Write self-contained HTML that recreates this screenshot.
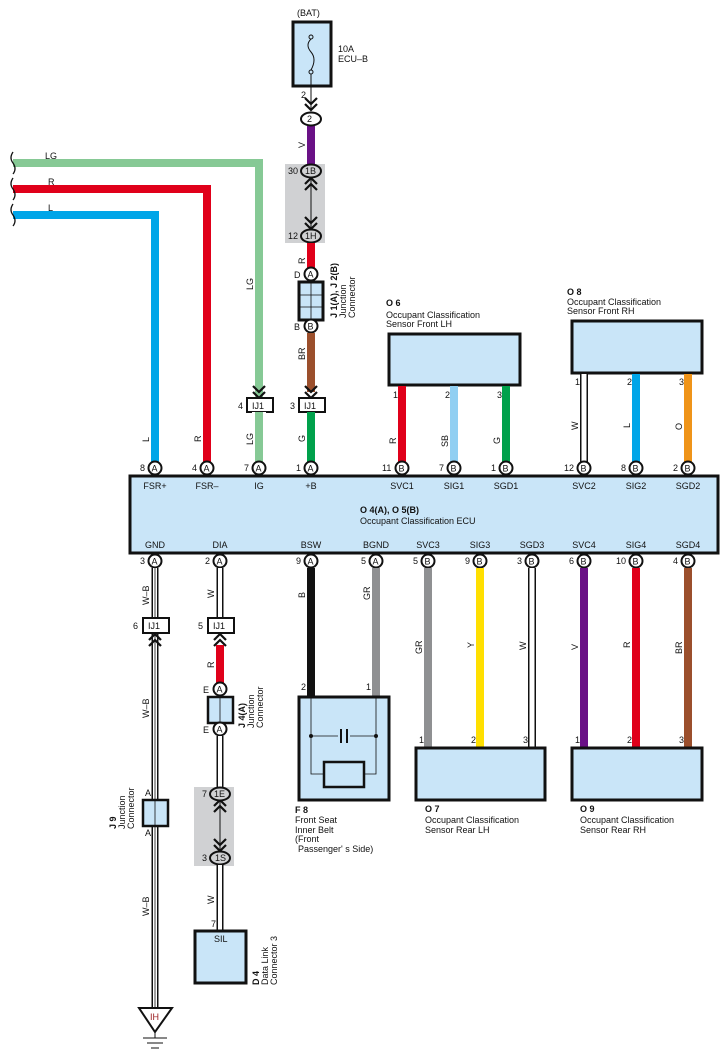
<!DOCTYPE html>
<html><head><meta charset="utf-8"><style>
html,body{margin:0;padding:0;background:#fff;width:725px;height:1061px;overflow:hidden}
svg{display:block}
text{font-family:"Liberation Sans",sans-serif;font-size:9px;fill:#111}
.b{font-weight:bold}
</style></head><body>
<svg width="725" height="1061" viewBox="0 0 725 1061" xmlns="http://www.w3.org/2000/svg">
<defs>
<g id="chev"><path d="M-6,-6 L0,0 L6,-6 M-6,0 L0,6 L6,0" fill="none" stroke="#111" stroke-width="2.2"/></g>
<g id="chevu"><path d="M-6,6 L0,0 L6,6 M-6,0 L0,-6 L6,0" fill="none" stroke="#111" stroke-width="2.2"/></g>
</defs>

<!-- top-left wires -->
<path d="M13,163 H259 V468" fill="none" stroke="#86c995" stroke-width="8"/>
<path d="M13,189 H207 V468" fill="none" stroke="#e0001a" stroke-width="8"/>
<path d="M13,215 H155 V468" fill="none" stroke="#00a5e8" stroke-width="8"/>
<path d="M13,152 q-4,6 0,11 q4,6 0,11" fill="none" stroke="#111" stroke-width="1.3"/>
<path d="M13,178 q-4,6 0,11 q4,6 0,11" fill="none" stroke="#111" stroke-width="1.3"/>
<path d="M13,204 q-4,6 0,11 q4,6 0,11" fill="none" stroke="#111" stroke-width="1.3"/>
<text x="45" y="159">LG</text><text x="48" y="185">R</text><text x="48" y="211">L</text>

<!-- fuse -->
<text x="297" y="16">(BAT)</text>
<rect x="293" y="22" width="38" height="64" fill="#c9e5f8" stroke="#111" stroke-width="3"/>
<circle cx="311" cy="37" r="2" fill="none" stroke="#111"/><circle cx="311" cy="72" r="2" fill="none" stroke="#111"/>
<path d="M311,39 q-6,6 0,13 q6,7 0,18" fill="none" stroke="#111" stroke-width="1"/>
<text x="338" y="52">10A</text><text x="338" y="62">ECU–B</text>
<line x1="311" y1="74" x2="311" y2="110" stroke="#111" stroke-width="1"/>
<text x="301" y="98">2</text>
<use href="#chev" x="311" y="104"/>
<line x1="311" y1="126" x2="311" y2="165" stroke="#6a1186" stroke-width="8"/>
<ellipse cx="311" cy="119" rx="10" ry="6.5" fill="#fff" stroke="#111" stroke-width="2"/><text x="307" y="122">2</text>
<text transform="translate(305,148) rotate(-90)">V</text>
<rect x="285" y="164" width="40" height="79" fill="#d0d1d3"/>
<line x1="311" y1="178" x2="311" y2="229" stroke="#111" stroke-width="1"/>
<use href="#chevu" x="311" y="184"/><use href="#chev" x="311" y="223"/>
<ellipse cx="311" cy="171" rx="10" ry="6.5" fill="#d0d1d3" stroke="#111" stroke-width="2"/><text x="305" y="174">1B</text>
<ellipse cx="311" cy="236" rx="10" ry="6.5" fill="#d0d1d3" stroke="#111" stroke-width="2"/><text x="305" y="239">1H</text>
<text x="288" y="174">30</text><text x="288" y="239">12</text>
<line x1="311" y1="243" x2="311" y2="268" stroke="#e0001a" stroke-width="8"/>
<text transform="translate(305,264) rotate(-90)">R</text>
<text x="294" y="278">D</text>
<circle cx="311" cy="274" r="6.5" fill="#fff" stroke="#111" stroke-width="2"/><text x="307.5" y="277.5">A</text>
<rect x="299" y="282" width="24" height="38" fill="#c9e5f8" stroke="#111" stroke-width="3"/>
<path d="M311,282 V320 M299,295 H323 M299,307 H323" stroke="#111" stroke-width="0.8"/>
<text x="294" y="330">B</text>
<circle cx="311" cy="326" r="6.5" fill="#fff" stroke="#111" stroke-width="2"/><text x="307.5" y="329.5">B</text>
<text class="b" transform="translate(337,318) rotate(-90)">J 1(A), J 2(B)</text>
<text transform="translate(346,318) rotate(-90)">Junction</text>
<text transform="translate(355,318) rotate(-90)">Connector</text>
<line x1="311" y1="333" x2="311" y2="392" stroke="#9b4f2c" stroke-width="8"/>
<text transform="translate(305,360) rotate(-90)">BR</text>
<use href="#chev" x="311" y="392"/><use href="#chev" x="259" y="392"/>
<rect x="299" y="398" width="26" height="14" fill="#fff" stroke="#111" stroke-width="2"/><text x="304" y="409">IJ1</text><text x="290" y="409">3</text>
<rect x="247" y="398" width="26" height="14" fill="#fff" stroke="#111" stroke-width="2"/><text x="252" y="409">IJ1</text><text x="238" y="409">4</text>
<rect x="252" y="412" width="14" height="50" fill="#fff"/>
<line x1="259" y1="412" x2="259" y2="462" stroke="#86c995" stroke-width="8"/>
<line x1="311" y1="412" x2="311" y2="462" stroke="#00a14b" stroke-width="8"/>
<text transform="translate(253,290) rotate(-90)">LG</text>
<text transform="translate(253,445) rotate(-90)">LG</text>
<text transform="translate(305,442) rotate(-90)">G</text>
<text transform="translate(149,442) rotate(-90)">L</text>
<text transform="translate(201,442) rotate(-90)">R</text>

<!-- sensors top -->
<text class="b" x="386" y="306">O 6</text>
<text x="386" y="318">Occupant Classification</text><text x="386" y="327">Sensor Front LH</text>
<rect x="389" y="334" width="131" height="51" fill="#c9e5f8" stroke="#111" stroke-width="3"/>
<line x1="402" y1="386" x2="402" y2="462" stroke="#e0001a" stroke-width="8"/>
<line x1="454" y1="386" x2="454" y2="462" stroke="#91cff2" stroke-width="8"/>
<line x1="506" y1="386" x2="506" y2="462" stroke="#00a14b" stroke-width="8"/>
<text x="393" y="398">1</text><text x="445" y="398">2</text><text x="497" y="398">3</text>
<text transform="translate(396,444) rotate(-90)">R</text>
<text transform="translate(448,447) rotate(-90)">SB</text>
<text transform="translate(500,444) rotate(-90)">G</text>
<text class="b" x="567" y="295">O 8</text>
<text x="567" y="305">Occupant Classification</text><text x="567" y="314">Sensor Front RH</text>
<rect x="572" y="321" width="130" height="52" fill="#c9e5f8" stroke="#111" stroke-width="3"/>
<line x1="584" y1="374" x2="584" y2="462" stroke="#111" stroke-width="8"/>
<line x1="584" y1="374" x2="584" y2="462" stroke="#fff" stroke-width="5"/>
<line x1="636" y1="374" x2="636" y2="462" stroke="#00a5e8" stroke-width="8"/>
<line x1="688" y1="374" x2="688" y2="462" stroke="#ef9419" stroke-width="8"/>
<text x="575" y="385">1</text><text x="627" y="385">2</text><text x="679" y="385">3</text>
<text transform="translate(578,430) rotate(-90)">W</text>
<text transform="translate(630,428) rotate(-90)">L</text>
<text transform="translate(682,430) rotate(-90)">O</text>

<!-- ECU -->
<rect x="130" y="476" width="588" height="77" fill="#c9e5f8" stroke="#111" stroke-width="3"/>
<text class="b" x="360" y="513">O 4(A), O 5(B)</text>
<text x="360" y="524">Occupant Classification ECU</text>
<g text-anchor="middle">
<text x="155" y="489">FSR+</text><text x="207" y="489">FSR–</text><text x="259" y="489">IG</text><text x="311" y="489">+B</text>
<text x="402" y="489">SVC1</text><text x="454" y="489">SIG1</text><text x="506" y="489">SGD1</text>
<text x="584" y="489">SVC2</text><text x="636" y="489">SIG2</text><text x="688" y="489">SGD2</text>
<text x="155" y="548">GND</text><text x="220" y="548">DIA</text><text x="311" y="548">BSW</text><text x="376" y="548">BGND</text>
<text x="428" y="548">SVC3</text><text x="480" y="548">SIG3</text><text x="532" y="548">SGD3</text>
<text x="584" y="548">SVC4</text><text x="636" y="548">SIG4</text><text x="688" y="548">SGD4</text>
</g>
<!-- top terminals -->
<g stroke="#111" stroke-width="2" fill="#fff">
<circle cx="155" cy="468" r="6.5"/><circle cx="207" cy="468" r="6.5"/><circle cx="259" cy="468" r="6.5"/><circle cx="311" cy="468" r="6.5"/>
<circle cx="402" cy="468" r="6.5"/><circle cx="454" cy="468" r="6.5"/><circle cx="506" cy="468" r="6.5"/>
<circle cx="584" cy="468" r="6.5"/><circle cx="636" cy="468" r="6.5"/><circle cx="688" cy="468" r="6.5"/>
<circle cx="155" cy="561" r="6.5"/><circle cx="220" cy="561" r="6.5"/><circle cx="311" cy="561" r="6.5"/><circle cx="376" cy="561" r="6.5"/>
<circle cx="428" cy="561" r="6.5"/><circle cx="480" cy="561" r="6.5"/><circle cx="532" cy="561" r="6.5"/>
<circle cx="584" cy="561" r="6.5"/><circle cx="636" cy="561" r="6.5"/><circle cx="688" cy="561" r="6.5"/>
</g>
<g font-size="9">
<text x="151.5" y="471.5">A</text><text x="203.5" y="471.5">A</text><text x="255.5" y="471.5">A</text><text x="307.5" y="471.5">A</text>
<text x="398.5" y="471.5">B</text><text x="450.5" y="471.5">B</text><text x="502.5" y="471.5">B</text>
<text x="580.5" y="471.5">B</text><text x="632.5" y="471.5">B</text><text x="684.5" y="471.5">B</text>
<text x="151.5" y="564.5">A</text><text x="216.5" y="564.5">A</text><text x="307.5" y="564.5">A</text><text x="372.5" y="564.5">A</text>
<text x="424.5" y="564.5">B</text><text x="476.5" y="564.5">B</text><text x="528.5" y="564.5">B</text>
<text x="580.5" y="564.5">B</text><text x="632.5" y="564.5">B</text><text x="684.5" y="564.5">B</text>
<text x="140" y="471">8</text><text x="192" y="471">4</text><text x="244" y="471">7</text><text x="296" y="471">1</text>
<text x="382" y="471">11</text><text x="439" y="471">7</text><text x="491" y="471">1</text>
<text x="564" y="471">12</text><text x="621" y="471">8</text><text x="673" y="471">2</text>
<text x="140" y="564">3</text><text x="205" y="564">2</text><text x="296" y="564">9</text><text x="361" y="564">5</text>
<text x="413" y="564">5</text><text x="465" y="564">9</text><text x="517" y="564">3</text>
<text x="569" y="564">6</text><text x="616" y="564">10</text><text x="673" y="564">4</text>
</g>

<!-- bottom left W-B -->
<line x1="155" y1="568" x2="155" y2="618" stroke="#111" stroke-width="7"/><line x1="155" y1="568" x2="155" y2="618" stroke="#fff" stroke-width="4"/>
<line x1="155" y1="633" x2="155" y2="1012" stroke="#111" stroke-width="7"/><line x1="155" y1="633" x2="155" y2="1012" stroke="#fff" stroke-width="4"/>
<line x1="155" y1="633" x2="155" y2="1012" stroke="#111" stroke-width="0.8"/>
<line x1="155" y1="568" x2="155" y2="618" stroke="#111" stroke-width="0.8"/>
<use href="#chevu" x="155" y="640"/>
<rect x="143" y="618" width="26" height="15" fill="#fff" stroke="#111" stroke-width="2"/><text x="148" y="629">IJ1</text><text x="133" y="629">6</text>
<text transform="translate(149,605) rotate(-90)">W–B</text>
<text transform="translate(149,718) rotate(-90)">W–B</text>
<text transform="translate(149,916) rotate(-90)">W–B</text>
<text x="145" y="796">A</text><text x="145" y="836">A</text>
<rect x="143" y="800" width="25" height="26" fill="#c9e5f8" stroke="#111" stroke-width="2.5"/>
<line x1="155" y1="800" x2="155" y2="826" stroke="#111" stroke-width="0.8"/>
<text class="b" transform="translate(116,829) rotate(-90)">J 9</text>
<text transform="translate(125,829) rotate(-90)">Junction</text>
<text transform="translate(134,829) rotate(-90)">Connector</text>
<path d="M139,1008 H172 L155,1032 Z" fill="#fff" stroke="#111" stroke-width="2"/>
<text x="150" y="1020" fill="#9b1d20" style="fill:#9b1d20">IH</text>
<path d="M143,1038 H167 M147,1043 H163 M151,1048 H159" stroke="#111" stroke-width="1"/>
<line x1="155" y1="1032" x2="155" y2="1038" stroke="#111" stroke-width="1"/>

<!-- DIA -->
<line x1="220" y1="568" x2="220" y2="618" stroke="#111" stroke-width="7"/><line x1="220" y1="568" x2="220" y2="618" stroke="#fff" stroke-width="4"/>
<rect x="208" y="618" width="26" height="15" fill="#fff" stroke="#111" stroke-width="2"/><text x="213" y="629">IJ1</text><text x="198" y="629">5</text>
<text transform="translate(214,598) rotate(-90)">W</text>
<line x1="220" y1="645" x2="220" y2="683" stroke="#e0001a" stroke-width="8"/>
<use href="#chevu" x="220" y="640"/>
<text transform="translate(214,668) rotate(-90)">R</text>
<text x="203" y="693">E</text><text x="203" y="733">E</text>
<circle cx="220" cy="689" r="6.5" fill="#fff" stroke="#111" stroke-width="2"/><text x="216.5" y="692.5">A</text>
<rect x="208" y="697" width="25" height="26" fill="#c9e5f8" stroke="#111" stroke-width="2.5"/>
<line x1="220" y1="697" x2="220" y2="723" stroke="#111" stroke-width="0.8"/>
<circle cx="220" cy="729" r="6.5" fill="#fff" stroke="#111" stroke-width="2"/><text x="216.5" y="732.5">A</text>
<text class="b" transform="translate(245,728) rotate(-90)">J 4(A)</text>
<text transform="translate(254,728) rotate(-90)">Junction</text>
<text transform="translate(263,728) rotate(-90)">Connector</text>
<line x1="220" y1="736" x2="220" y2="787" stroke="#111" stroke-width="7"/><line x1="220" y1="736" x2="220" y2="787" stroke="#fff" stroke-width="4"/>
<rect x="194" y="787" width="40" height="79" fill="#d0d1d3"/>
<line x1="220" y1="800" x2="220" y2="851" stroke="#111" stroke-width="1"/>
<use href="#chevu" x="220" y="806"/><use href="#chev" x="220" y="845"/>
<ellipse cx="220" cy="794" rx="10" ry="6.5" fill="#d0d1d3" stroke="#111" stroke-width="2"/><text x="214" y="797">1E</text>
<ellipse cx="220" cy="858" rx="10" ry="6.5" fill="#d0d1d3" stroke="#111" stroke-width="2"/><text x="215" y="861">1S</text>
<text x="202" y="797">7</text><text x="202" y="861">3</text>
<line x1="220" y1="865" x2="220" y2="931" stroke="#111" stroke-width="7"/><line x1="220" y1="865" x2="220" y2="931" stroke="#fff" stroke-width="4"/>
<text transform="translate(214,904) rotate(-90)">W</text>
<text x="211" y="927">7</text>
<rect x="195" y="931" width="51" height="52" fill="#c9e5f8" stroke="#111" stroke-width="3"/>
<text x="214" y="942">SIL</text>
<text class="b" transform="translate(259,985) rotate(-90)">D 4</text>
<text transform="translate(268,985) rotate(-90)">Data Link</text>
<text transform="translate(277,985) rotate(-90)">Connector 3</text>

<!-- F8 -->
<line x1="311" y1="568" x2="311" y2="697" stroke="#111" stroke-width="8"/>
<line x1="376" y1="568" x2="376" y2="697" stroke="#8f9092" stroke-width="8"/>
<text transform="translate(305,598) rotate(-90)">B</text>
<text transform="translate(370,600) rotate(-90)">GR</text>
<text x="301" y="690">2</text><text x="366" y="690">1</text>
<rect x="299" y="697" width="90" height="103" fill="#c9e5f8" stroke="#111" stroke-width="3"/>
<path d="M311,697 V774 H324 M376,697 V774 H364 M311,736 H338 M350,736 H376" fill="none" stroke="#111" stroke-width="0.8"/>
<path d="M341,729 V743 M347,729 V743" stroke="#111" stroke-width="2"/>
<circle cx="311" cy="736" r="2" fill="#111"/><circle cx="376" cy="736" r="2" fill="#111"/>
<rect x="324" y="762" width="40" height="25" fill="#c9e5f8" stroke="#111" stroke-width="2.5"/>
<text class="b" x="295" y="813">F 8</text>
<text x="295" y="823">Front Seat</text><text x="295" y="833">Inner Belt</text><text x="295" y="842">(Front</text><text x="298" y="852">Passenger' s Side)</text>

<!-- rear sensors -->
<line x1="428" y1="568" x2="428" y2="747" stroke="#8f9092" stroke-width="8"/>
<line x1="480" y1="568" x2="480" y2="747" stroke="#ffdf00" stroke-width="8"/>
<line x1="532" y1="568" x2="532" y2="747" stroke="#111" stroke-width="8"/><line x1="532" y1="568" x2="532" y2="747" stroke="#fff" stroke-width="5"/>
<line x1="584" y1="568" x2="584" y2="747" stroke="#6a1186" stroke-width="8"/>
<line x1="636" y1="568" x2="636" y2="747" stroke="#e0001a" stroke-width="8"/>
<line x1="688" y1="568" x2="688" y2="747" stroke="#9b4f2c" stroke-width="8"/>
<text transform="translate(422,654) rotate(-90)">GR</text>
<text transform="translate(474,648) rotate(-90)">Y</text>
<text transform="translate(526,650) rotate(-90)">W</text>
<text transform="translate(578,650) rotate(-90)">V</text>
<text transform="translate(630,648) rotate(-90)">R</text>
<text transform="translate(682,654) rotate(-90)">BR</text>
<text x="419" y="743">1</text><text x="471" y="743">2</text><text x="523" y="743">3</text>
<text x="575" y="743">1</text><text x="627" y="743">2</text><text x="679" y="743">3</text>
<rect x="416" y="748" width="129" height="52" fill="#c9e5f8" stroke="#111" stroke-width="3"/>
<rect x="572" y="748" width="130" height="52" fill="#c9e5f8" stroke="#111" stroke-width="3"/>
<text class="b" x="425" y="812">O 7</text>
<text x="425" y="823">Occupant Classification</text><text x="425" y="833">Sensor Rear LH</text>
<text class="b" x="580" y="812">O 9</text>
<text x="580" y="823">Occupant Classification</text><text x="580" y="833">Sensor Rear RH</text>
</svg>
</body></html>
